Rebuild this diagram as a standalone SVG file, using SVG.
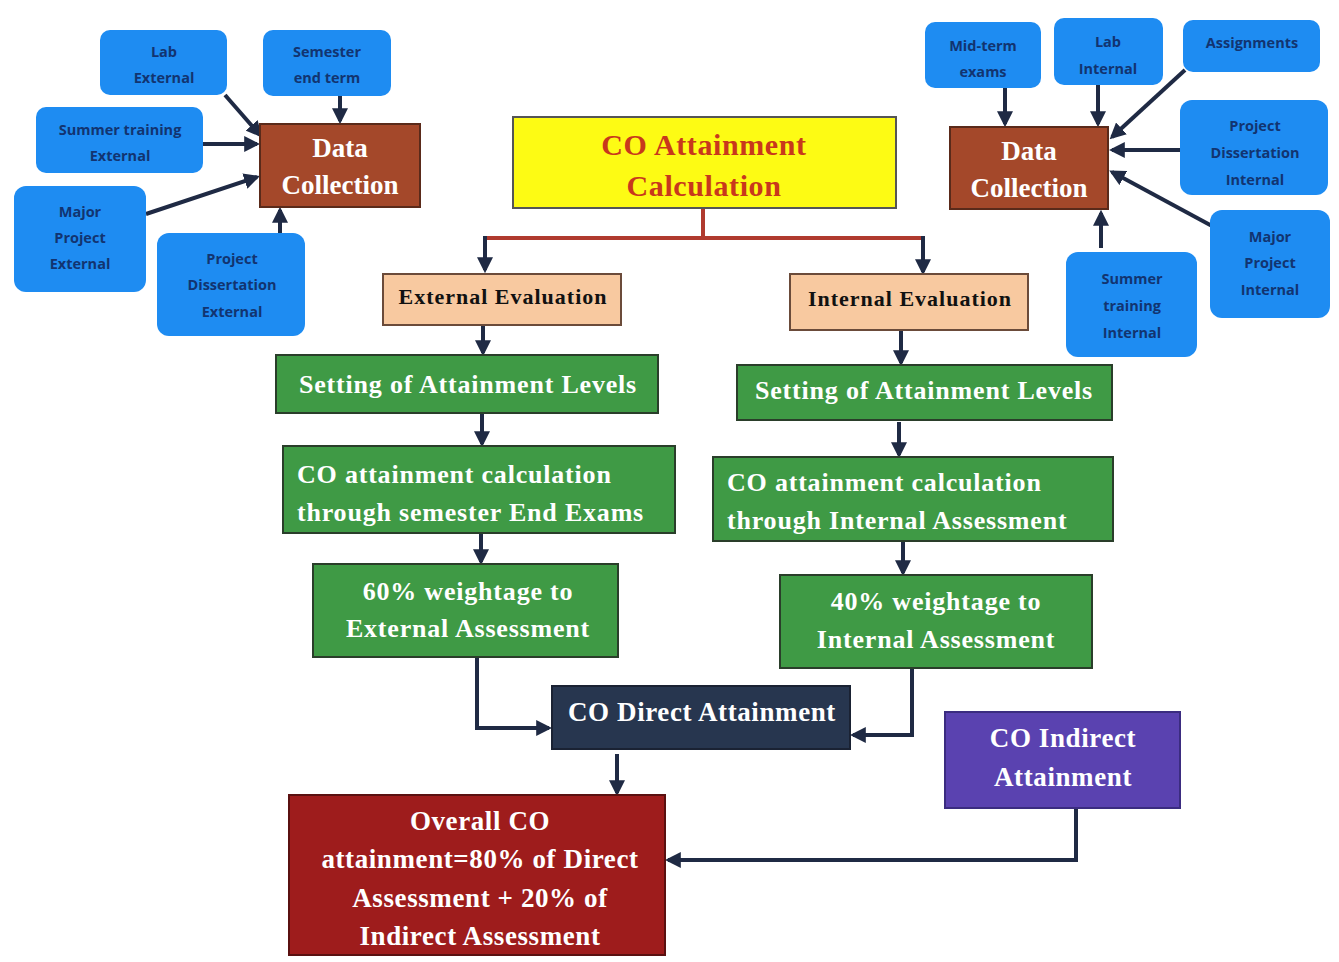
<svg xmlns="http://www.w3.org/2000/svg" width="1339" height="962" viewBox="0 0 1339 962">
<defs>
<marker id="ah" viewBox="0 0 10 10" refX="8" refY="5" markerWidth="4" markerHeight="4" orient="auto" markerUnits="strokeWidth">
<path d="M0,0 L10,5 L0,10 z" fill="#1f2a44"/>
</marker>
<style>
.blue{fill:#1e8cf2;}
.bt{font-family:"Open Sans","Noto Sans",sans-serif;font-size:14.5px;font-weight:700;fill:#123470;text-anchor:middle;}
.brown{fill:#a4482a;stroke:#5a2a1a;stroke-width:2;}
.green{fill:#3f9a45;stroke:#2a3e2a;stroke-width:2;}
.peach{fill:#f8c9a0;stroke:#6b4b3a;stroke-width:2;}
.st{font-family:"Liberation Serif","Times New Roman",serif;font-weight:bold;fill:#ffffff;}
.gt{font-size:26px;letter-spacing:0.8px;}
.c{text-anchor:middle;}
.conn{fill:none;stroke:#1f2a44;stroke-width:4;}
.arr{fill:none;stroke:#1f2a44;stroke-width:4;marker-end:url(#ah);}
</style>
</defs>
<rect width="1339" height="962" fill="#ffffff"/>

<g id="connectors">
<path d="M703,208 V238 M485,238 H923" fill="none" stroke="#b03a2e" stroke-width="4"/>
<path class="arr" d="M485,236 V270"/>
<path class="arr" d="M923,236 V272"/>
<path class="arr" d="M225,95 L260,135"/>
<path class="arr" d="M340,96 V121"/>
<path class="arr" d="M203,144 H257"/>
<path class="arr" d="M146,214 L257,177"/>
<path class="arr" d="M280,233 V210"/>
<path class="arr" d="M1005,88 V124"/>
<path class="arr" d="M1098,85 V124"/>
<path class="arr" d="M1185,70 L1112,137"/>
<path class="arr" d="M1180,150 H1112"/>
<path class="arr" d="M1212,226 L1112,172"/>
<path class="arr" d="M1101,248 V213"/>
<path class="arr" d="M483,325 V353"/>
<path class="arr" d="M482,413 V444"/>
<path class="arr" d="M481,533 V562"/>
<path class="arr" d="M901,330 V363"/>
<path class="arr" d="M899,422 V455"/>
<path class="arr" d="M903,541 V573"/>
<path class="arr" d="M477,657 V728 H549"/>
<path class="arr" d="M912,668 V735 H853"/>
<path class="arr" d="M617,754 V793"/>
<path class="arr" d="M1076,808 V860 H668"/>
</g>

<g id="lab-external"><rect class="blue" x="100" y="30" width="127" height="65" rx="10"/><text class="bt" x="164" y="57">Lab</text><text class="bt" x="164" y="83">External</text></g>
<g id="semester-end-term"><rect class="blue" x="263" y="30" width="128" height="66" rx="10"/><text class="bt" x="327" y="57">Semester</text><text class="bt" x="327" y="83">end term</text></g>
<g id="summer-training-external"><rect class="blue" x="36" y="107" width="167" height="66" rx="10"/><text class="bt" x="120" y="135">Summer training</text><text class="bt" x="120" y="161">External</text></g>
<g id="major-project-external"><rect class="blue" x="14" y="186" width="132" height="106" rx="12"/><text class="bt" x="80" y="217">Major</text><text class="bt" x="80" y="243">Project</text><text class="bt" x="80" y="269">External</text></g>
<g id="project-dissertation-external"><rect class="blue" x="157" y="233" width="148" height="103" rx="12"/><text class="bt" x="232" y="264">Project</text><text class="bt" x="232" y="290">Dissertation</text><text class="bt" x="232" y="317">External</text></g>
<g id="data-collection-left"><rect class="brown" x="260" y="124" width="160" height="83"/><text class="st c" x="340" y="157" font-size="27">Data</text><text class="st c" x="340" y="194" font-size="27">Collection</text></g>

<g id="mid-term-exams"><rect class="blue" x="925" y="22" width="116" height="66" rx="10"/><text class="bt" x="983" y="51">Mid-term</text><text class="bt" x="983" y="77">exams</text></g>
<g id="lab-internal"><rect class="blue" x="1054" y="18" width="109" height="67" rx="10"/><text class="bt" x="1108" y="47">Lab</text><text class="bt" x="1108" y="74">Internal</text></g>
<g id="assignments"><rect class="blue" x="1183" y="20" width="137" height="52" rx="10"/><text class="bt" x="1252" y="48">Assignments</text></g>
<g id="project-dissertation-internal"><rect class="blue" x="1180" y="100" width="148" height="95" rx="12"/><text class="bt" x="1255" y="131">Project</text><text class="bt" x="1255" y="158">Dissertation</text><text class="bt" x="1255" y="185">Internal</text></g>
<g id="major-project-internal"><rect class="blue" x="1210" y="210" width="120" height="108" rx="12"/><text class="bt" x="1270" y="242">Major</text><text class="bt" x="1270" y="268">Project</text><text class="bt" x="1270" y="295">Internal</text></g>
<g id="summer-training-internal"><rect class="blue" x="1066" y="252" width="131" height="105" rx="12"/><text class="bt" x="1132" y="284">Summer</text><text class="bt" x="1132" y="311">training</text><text class="bt" x="1132" y="338">Internal</text></g>
<g id="data-collection-right"><rect class="brown" x="950" y="127" width="158" height="82"/><text class="st c" x="1029" y="160" font-size="27">Data</text><text class="st c" x="1029" y="197" font-size="27">Collection</text></g>

<g id="co-attainment-calculation"><rect x="513" y="117" width="383" height="91" fill="#fdfb14" stroke="#555" stroke-width="2"/><text class="st c" x="704" y="155" font-size="30" letter-spacing="0.6" style="fill:#c8381c">CO Attainment</text><text class="st c" x="704" y="196" font-size="30" letter-spacing="0.6" style="fill:#c8381c">Calculation</text></g>

<g id="external-evaluation"><rect class="peach" x="383" y="274" width="238" height="51"/><text class="st c" x="503" y="304" font-size="22" letter-spacing="1" style="fill:#111">External Evaluation</text></g>
<g id="internal-evaluation"><rect class="peach" x="790" y="274" width="238" height="56"/><text class="st c" x="910" y="306" font-size="22" letter-spacing="1" style="fill:#111">Internal Evaluation</text></g>

<g id="setting-left"><rect class="green" x="276" y="355" width="382" height="58"/><text class="st gt c" x="468" y="393">Setting of Attainment Levels</text></g>
<g id="setting-right"><rect class="green" x="737" y="365" width="375" height="55"/><text class="st gt c" x="924" y="399">Setting of Attainment Levels</text></g>

<g id="co-calc-semester"><rect class="green" x="283" y="446" width="392" height="87"/><text class="st gt" x="297" y="483">CO attainment calculation</text><text class="st gt" x="297" y="521">through semester End Exams</text></g>
<g id="co-calc-internal"><rect class="green" x="713" y="457" width="400" height="84"/><text class="st gt" x="727" y="491">CO attainment calculation</text><text class="st gt" x="727" y="529">through Internal Assessment</text></g>

<g id="weight-60"><rect class="green" x="313" y="564" width="305" height="93"/><text class="st gt c" x="468" y="600">60% weightage to</text><text class="st gt c" x="468" y="637">External Assessment</text></g>
<g id="weight-40"><rect class="green" x="780" y="575" width="312" height="93"/><text class="st gt c" x="936" y="610">40% weightage to</text><text class="st gt c" x="936" y="648">Internal Assessment</text></g>

<g id="co-direct-attainment"><rect x="552" y="686" width="298" height="63" fill="#27364f" stroke="#1a2233" stroke-width="2"/><text class="st c" x="702" y="721" font-size="27" letter-spacing="0.6">CO Direct Attainment</text></g>
<g id="co-indirect-attainment"><rect x="945" y="712" width="235" height="96" fill="#5a42b0" stroke="#3b2c80" stroke-width="2"/><text class="st c" x="1063" y="747" font-size="27" letter-spacing="0.6">CO Indirect</text><text class="st c" x="1063" y="786" font-size="27" letter-spacing="0.6">Attainment</text></g>

<g id="overall-co"><rect x="289" y="795" width="376" height="160" fill="#9e1c1c" stroke="#5a1010" stroke-width="2"/><text class="st c" x="480" y="830" font-size="27" letter-spacing="0.6">Overall CO</text><text class="st c" x="480" y="868" font-size="27" letter-spacing="0.6">attainment=80% of Direct</text><text class="st c" x="480" y="907" font-size="27" letter-spacing="0.6">Assessment + 20% of</text><text class="st c" x="480" y="945" font-size="27" letter-spacing="0.6">Indirect Assessment</text></g>
</svg>
